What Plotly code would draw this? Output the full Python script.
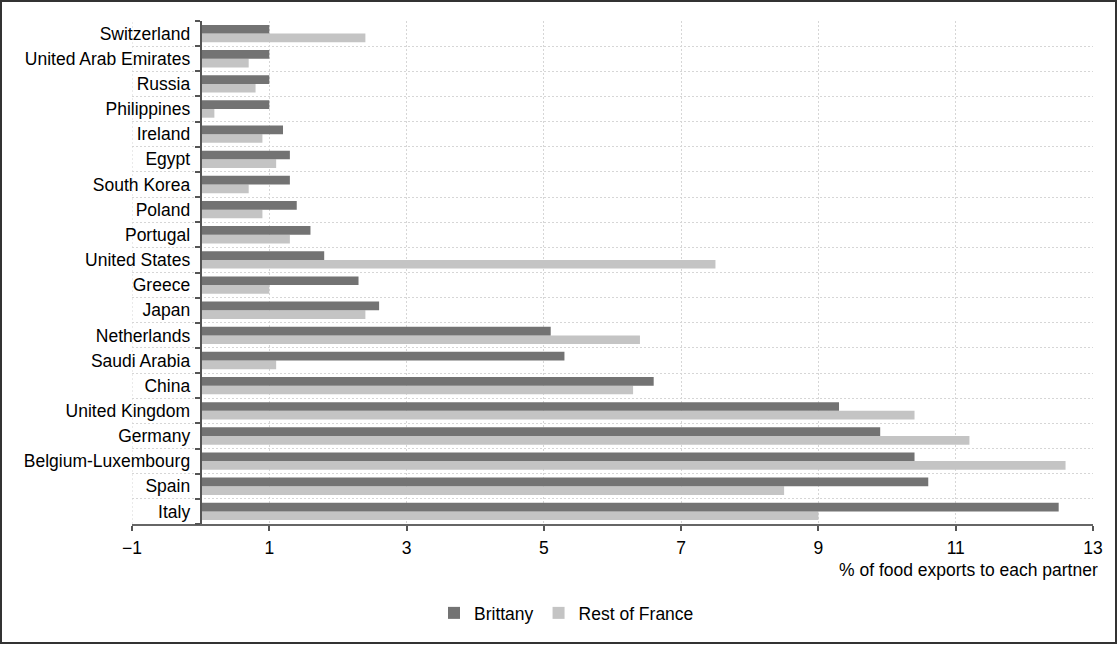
import plotly.graph_objects as go

countries = ["Switzerland", "United Arab Emirates", "Russia", "Philippines", "Ireland",
             "Egypt", "South Korea", "Poland", "Portugal", "United States", "Greece",
             "Japan", "Netherlands", "Saudi Arabia", "China", "United Kingdom", "Germany",
             "Belgium-Luxembourg", "Spain", "Italy"]
brittany = [1.0, 1.0, 1.0, 1.0, 1.2, 1.3, 1.3, 1.4, 1.6, 1.8, 2.3, 2.6, 5.1, 5.3, 6.6,
            9.3, 9.9, 10.4, 10.6, 12.5]
rest_of_france = [2.4, 0.7, 0.8, 0.2, 0.9, 1.1, 0.7, 0.9, 1.3, 7.5, 1.0, 2.4, 6.4, 1.1, 6.3,
                  10.4, 11.2, 12.6, 8.5, 9.0]
x_ticks = [-1, 1, 3, 5, 7, 9, 11, 13]

FONT = "Liberation Sans, Arial, sans-serif"
FS = 17.5
W, H = 1118, 646
L, R, T, B = 132, 25, 21, 122
pw, ph = W - L - R, H - T - B
GRID = "#d6d6d6"
DASH = "2px,2px"

fig = go.Figure()
fig.add_trace(go.Bar(y=countries, x=rest_of_france, name="Rest of France", orientation="h",
                     marker=dict(color="#c4c4c4", line=dict(width=0)), legendrank=2))
fig.add_trace(go.Bar(y=countries, x=brittany, name="Brittany", orientation="h",
                     marker=dict(color="#737373", line=dict(width=0)), legendrank=1))

fig.update_layout(
    width=W, height=H,
    margin=dict(l=L, r=R, t=T, b=B, autoexpand=False),
    paper_bgcolor="white", plot_bgcolor="white",
    barmode="group", bargap=0.31, bargroupgap=0,
    font=dict(family=FONT, size=FS, color="#000"),
    showlegend=True,
    legend=dict(orientation="h", xref="container", x=0.5067, xanchor="center",
                yref="container", y=1 - 613 / H, yanchor="middle",
                font=dict(family=FONT, size=FS), itemwidth=30),
    xaxis=dict(range=[-1, 13], tickvals=x_ticks, showgrid=True, gridcolor=GRID,
               griddash=DASH, gridwidth=1, zeroline=False, showline=True,
               linecolor="#666", linewidth=2, ticks="outside", ticklen=5, tickwidth=1.5,
               tickcolor="#555", tickfont=dict(family=FONT, size=FS), ticklabelstandoff=2),
    yaxis=dict(type="category", categoryorder="array", categoryarray=countries[::-1],
               anchor="free", position=1 / 14, tickson="boundaries", showgrid=True,
               gridcolor=GRID, griddash=DASH, gridwidth=1, showline=True,
               linecolor="#555", linewidth=2, ticks="outside", ticklen=5, tickwidth=1.5,
               tickcolor="#555", tickfont=dict(family=FONT, size=FS), zeroline=False,
               ticklabelstandoff=6),
)

# dotted gridline at the left edge of the x range (x = -1)
fig.add_shape(type="line", xref="x", yref="paper", x0=-1, x1=-1, y0=0, y1=1,
              line=dict(color=GRID, width=1, dash=DASH), layer="below")

fig.add_annotation(text="% of food exports to each partner", xref="paper", yref="paper",
                   x=(1100 - L) / pw, y=1 - (570 - T) / ph, xanchor="right", yanchor="middle",
                   showarrow=False, font=dict(family=FONT, size=FS, color="#000"))

fig.add_shape(type="rect", xref="paper", yref="paper",
              x0=(1 - L) / pw, x1=(W - 2 - L) / pw,
              y0=1 - (H - 3 - T) / ph, y1=1 + (T - 1) / ph,
              line=dict(color="#333", width=2), layer="above")

fig.write_html("out.html", config={"displayModeBar": False},
               post_script="document.body.style.margin='0';document.body.style.overflow='hidden';")
